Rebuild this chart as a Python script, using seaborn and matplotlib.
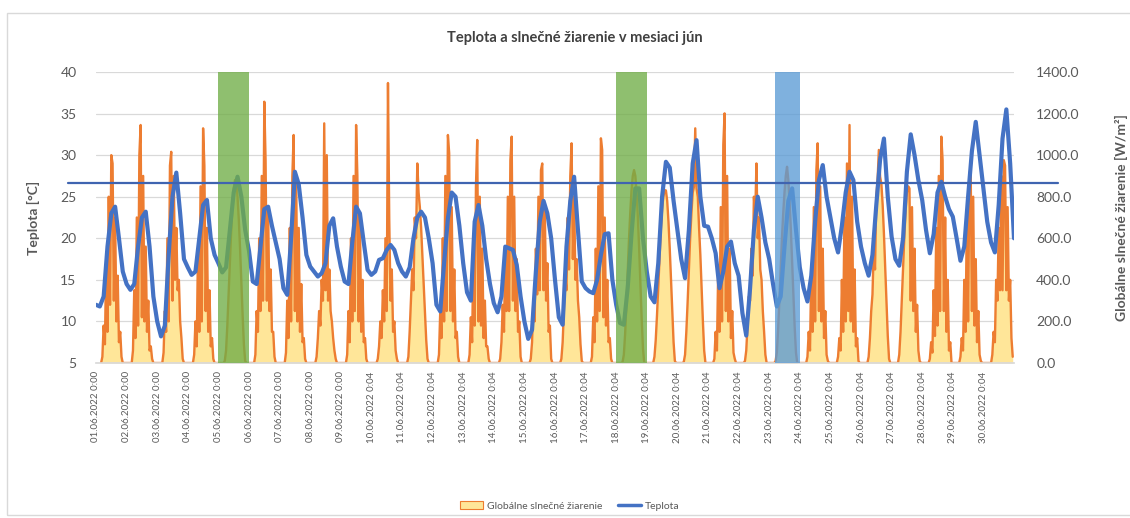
import numpy as np
import pandas as pd
import matplotlib
matplotlib.use("Agg")
import matplotlib.pyplot as plt
import matplotlib.transforms as mtransforms
from matplotlib.patches import Rectangle, Patch
from matplotlib.lines import Line2D
import seaborn as sns

# ---------------- data ----------------
TITLE = "Teplota a slnečné žiarenie v mesiaci jún"
LEFT_LABEL = "Teplota [°C]"
RIGHT_LABEL = "Globálne slnečné žiarenie [W/m²]"
SERIES_IRR = "Globálne slnečné žiarenie"
SERIES_TEMP = "Teplota"

DAY_LABELS = [
    "01.06.2022 0:00", "02.06.2022 0:00", "03.06.2022 0:00", "04.06.2022 0:00",
    "05.06.2022 0:00", "06.06.2022 0:00", "07.06.2022 0:00", "08.06.2022 0:00",
    "09.06.2022 0:00", "10.06.2022 0:04", "11.06.2022 0:04", "12.06.2022 0:04",
    "13.06.2022 0:04", "14.06.2022 0:04", "15.06.2022 0:04", "16.06.2022 0:04",
    "17.06.2022 0:04", "18.06.2022 0:04", "19.06.2022 0:04", "20.06.2022 0:04",
    "21.06.2022 0:04", "22.06.2022 0:04", "23.06.2022 0:04", "24.06.2022 0:04",
    "25.06.2022 0:04", "26.06.2022 0:04", "27.06.2022 0:04", "28.06.2022 0:04",
    "29.06.2022 0:04", "30.06.2022 0:04",
]

# temperature [°C] per day at these hours
TEMP_HOURS = [0, 3, 6, 9, 12, 15, 18, 21]
TEMP = [
    [12, 11.8, 13, 19, 23, 23.8, 20, 16],
    [14.5, 13.8, 14.5, 19, 22.5, 23.2, 19, 13],
    [10, 8.2, 9.5, 18, 25, 27.9, 23, 17.5],
    [16.5, 15.6, 16, 20, 24, 24.6, 20, 18],
    [17, 15.9, 16.5, 21, 25.5, 27.4, 25, 21],
    [18.5, 14.8, 14.5, 19, 23.5, 23.8, 21.5, 19.5],
    [17.5, 14, 13.2, 20, 28, 26.5, 22.5, 18],
    [16.6, 16, 15.4, 15.8, 17, 21.5, 22.4, 19],
    [16.6, 14.8, 14.5, 19.5, 23.8, 23, 19.5, 16.2],
    [15.6, 16, 17.4, 17.6, 18.6, 19.2, 18.6, 17],
    [16, 15.4, 16.5, 20, 22.5, 23.2, 22.5, 20],
    [17, 12, 11.2, 17, 22.4, 25.5, 25, 21.5],
    [17, 13.5, 12.5, 22, 24, 21.5, 17.5, 14.5],
    [12.2, 11.1, 13, 19, 18.8, 18.6, 16.8, 13],
    [10, 7.9, 9, 16, 22, 24.5, 23, 20],
    [15, 10.5, 9.6, 19, 24.5, 27.4, 21, 14.8],
    [14, 13.6, 13.4, 15, 18, 20.5, 20.6, 15],
    [12, 9.8, 9.6, 14, 20.5, 26, 26, 20],
    [16, 13, 12.3, 17, 25, 29.2, 28.5, 24.5],
    [21, 17.5, 15.2, 21, 29, 31.8, 25, 21.5],
    [21.4, 20, 18.2, 14, 16, 19, 19.6, 17],
    [15.5, 11, 8.3, 14, 21, 25, 22.5, 19.5],
    [17.5, 14.5, 11.8, 13, 19, 24.5, 26, 21],
    [16.5, 14, 12.4, 15.5, 22, 27, 28.8, 25],
    [22.5, 20, 18.3, 21.5, 25.5, 28, 27, 22],
    [19, 17, 15.5, 18, 24, 29.5, 32, 25],
    [20.2, 17.5, 16.7, 20, 28, 32.5, 30, 27],
    [24.6, 21, 18.2, 20.5, 25.5, 26.8, 25, 23.5],
    [22.6, 20, 17.3, 19, 25, 30.5, 34, 30],
    [26, 22, 19.5, 18.3, 24, 32, 35.5, 29],
]
TEMP_END = 20.0

# global solar irradiance [W/m²] per day at these hours
IRR_HOURS = [4, 5, 6, 7, 8, 9, 10, 11, 12, 13, 14, 15, 16, 17, 18, 19, 20, 21, 22, 23]
IRR = [
    [0, 30, 180, 90, 500, 150, 800, 280, 1000, 960, 300, 700, 200, 420, 100, 150, 30, 0, 0, 0],
    [0, 60, 350, 120, 700, 180, 1000, 1145, 220, 900, 200, 560, 150, 300, 60, 80, 20, 0, 0, 0],
    [0, 50, 250, 150, 600, 200, 950, 1016, 300, 900, 400, 650, 350, 400, 200, 120, 20, 0, 0, 0],
    [0, 40, 200, 80, 550, 150, 850, 200, 1129, 950, 250, 650, 150, 350, 80, 120, 20, 0, 0, 0],
    [0, 10, 60, 180, 330, 490, 630, 750, 840, 880, 870, 800, 690, 550, 390, 230, 90, 10, 0, 0],
    [0, 40, 250, 150, 600, 250, 900, 300, 1257, 976, 300, 750, 250, 450, 150, 150, 30, 0, 0, 0],
    [0, 50, 300, 120, 650, 200, 900, 1097, 250, 900, 200, 650, 150, 380, 100, 120, 20, 0, 0, 0],
    [0, 30, 120, 250, 180, 400, 300, 1153, 350, 1000, 300, 450, 250, 200, 120, 60, 20, 0, 0, 0],
    [0, 40, 250, 100, 600, 200, 900, 250, 1145, 900, 200, 700, 150, 400, 100, 120, 20, 0, 0, 0],
    [0, 20, 80, 200, 120, 350, 200, 600, 250, 1347, 688, 300, 450, 150, 200, 60, 20, 0, 0, 0],
    [0, 30, 150, 300, 450, 350, 700, 600, 960, 820, 750, 650, 520, 380, 240, 110, 20, 0, 0, 0],
    [0, 40, 250, 120, 600, 200, 900, 250, 1097, 1010, 250, 750, 200, 450, 120, 150, 30, 0, 0, 0],
    [0, 40, 220, 100, 550, 180, 850, 1073, 200, 800, 180, 550, 120, 300, 80, 80, 20, 0, 0, 0],
    [0, 20, 100, 280, 150, 550, 250, 800, 250, 976, 1089, 300, 800, 250, 500, 150, 200, 30, 0, 0],
    [0, 20, 100, 300, 200, 550, 330, 800, 350, 928, 960, 350, 750, 300, 480, 150, 180, 20, 0, 0],
    [0, 20, 100, 260, 420, 350, 700, 450, 900, 1057, 500, 800, 400, 500, 300, 220, 90, 10, 0, 0],
    [0, 30, 220, 100, 550, 200, 850, 250, 1081, 1025, 220, 700, 180, 400, 100, 120, 20, 0, 0, 0],
    [0, 5, 40, 140, 280, 440, 590, 720, 830, 900, 928, 900, 820, 700, 550, 380, 210, 70, 0, 0],
    [0, 0, 30, 110, 230, 370, 510, 640, 740, 800, 832, 830, 780, 680, 550, 400, 240, 100, 10, 0],
    [0, 5, 40, 150, 290, 450, 600, 720, 820, 848, 1129, 840, 800, 650, 520, 360, 200, 60, 0, 0],
    [0, 20, 150, 60, 450, 150, 750, 200, 1050, 1201, 250, 900, 200, 550, 120, 250, 50, 20, 0, 0],
    [0, 10, 60, 180, 320, 300, 550, 420, 800, 700, 960, 600, 700, 450, 400, 250, 150, 40, 0, 0],
    [0, 10, 50, 160, 300, 450, 600, 720, 820, 900, 944, 880, 780, 640, 480, 320, 170, 50, 0, 0],
    [0, 0, 30, 150, 60, 450, 150, 750, 200, 928, 1057, 250, 850, 200, 550, 120, 250, 40, 10, 0],
    [0, 0, 30, 120, 60, 400, 150, 700, 200, 960, 250, 1145, 200, 800, 150, 450, 80, 120, 10, 0],
    [0, 0, 30, 120, 250, 330, 550, 450, 800, 880, 1025, 896, 860, 760, 620, 460, 290, 130, 20, 0],
    [0, 0, 40, 150, 300, 460, 610, 730, 820, 850, 840, 300, 750, 250, 550, 150, 280, 60, 10, 0],
    [0, 0, 20, 100, 50, 350, 130, 650, 180, 900, 250, 1089, 976, 250, 700, 150, 400, 60, 100, 0],
    [0, 0, 30, 120, 60, 400, 150, 700, 200, 900, 944, 250, 800, 180, 500, 100, 250, 40, 10, 0],
    [0, 0, 0, 40, 150, 100, 400, 300, 650, 350, 900, 350, 976, 950, 350, 750, 300, 400, 120, 30],
]

THRESHOLD_TEMP = 26.6
# highlighted periods (start day, end day, colour)
HIGHLIGHTS = [(4.0, 5.0, "#70AD47"), (17.0, 18.0, "#70AD47"), (22.2, 23.0, "#5B9BD5")]

# ---------------- build tables ----------------
temp_rows = [(d + h / 24.0, v) for d, day in enumerate(TEMP) for h, v in zip(TEMP_HOURS, day)]
temp_rows.append((float(len(TEMP)), TEMP_END))
df_t = pd.DataFrame(temp_rows, columns=["t", "temp"])

irr_rows = [(d + h / 24.0, v) for d, day in enumerate(IRR) for h, v in zip(IRR_HOURS, day)]
df_i = pd.DataFrame(irr_rows, columns=["t", "irr"])

# ---------------- style ----------------
sns.set_theme(style="white")
plt.rcParams["font.family"] = ["Lato", "DejaVu Sans"]
GRAY = "#595959"

W, H = 1130, 518
fig = plt.figure(figsize=(W / 100, H / 100), dpi=100)
ax_l, ax_r, ax_t, ax_b = 96, 1014, 72, 363
ax = fig.add_axes([ax_l / W, 1 - ax_b / H, (ax_r - ax_l) / W, (ax_b - ax_t) / H])
ax2 = ax.twinx()
ax.set_zorder(ax2.get_zorder() + 1)
ax.patch.set_visible(False)

# irradiance (right axis, drawn below)
ax2.fill_between(df_i["t"], 0, df_i["irr"], color="#FFE699", lw=0, zorder=1)
sns.lineplot(data=df_i, x="t", y="irr", ax=ax2, color="#ED7D31", lw=1.7,
             legend=False, zorder=2)
ax2.set_ylim(0, 1400)
ax2.set_yticks(np.arange(0, 1401, 200))
ax2.set_yticklabels([f"{v:.1f}" for v in np.arange(0, 1401, 200)])
ax2.yaxis.grid(True, color="#D9D9D9", lw=0.9)
ax2.set_axisbelow(True)
ax2.tick_params(axis="y", length=0, pad=16, labelsize=10, labelcolor=GRAY)
ax2.set_ylabel(RIGHT_LABEL, fontsize=10, fontweight="bold", color=GRAY)
ax2.yaxis.set_label_coords((1115 - ax_l) / (ax_r - ax_l), 0.5)

# temperature (left axis, on top)
sns.lineplot(data=df_t, x="t", y="temp", ax=ax, color="#4472C4", lw=3.0,
             legend=False, zorder=3)
ax.set_ylim(5, 40)
ax.set_yticks(np.arange(5, 41, 5))
ax.set_xlim(0, len(TEMP))
ax.tick_params(axis="y", length=0, pad=14, labelsize=10, labelcolor=GRAY)
ax.set_ylabel(LEFT_LABEL, fontsize=10, fontweight="bold", color=GRAY)
ax.yaxis.set_label_coords((40 - ax_l) / (ax_r - ax_l), 0.5)

ax.set_xticks(np.arange(len(DAY_LABELS)))
ax.set_xticklabels(DAY_LABELS, rotation=90, fontsize=7, color=GRAY, va="top", ha="center")
ax.tick_params(axis="x", length=0, pad=6)
ax.set_xlabel("")
ax2.set_xlabel("")

for a in (ax, ax2):
    for s in a.spines.values():
        s.set_visible(False)
ax2.spines["bottom"].set_visible(True)
ax2.spines["bottom"].set_color("#D9D9D9")

# highlighted periods
for start, end, col in HIGHLIGHTS:
    ax.axvspan(start, end, color=col, alpha=0.78, lw=0, zorder=4)

# threshold line (extends beyond plot area as in original)
trans = mtransforms.blended_transform_factory(ax.transAxes, ax.transData)
x0 = (68 - ax_l) / (ax_r - ax_l)
x1 = (1058 - ax_l) / (ax_r - ax_l)
ax.add_line(Line2D([x0, x1], [THRESHOLD_TEMP, THRESHOLD_TEMP], transform=trans,
                   color="#3F64B0", lw=1.6, clip_on=False, zorder=6))

# title
fig.text(575 / W, 1 - 38 / H, TITLE, ha="center", va="center", fontsize=10.5,
         fontweight="bold", color="#404040")

# legend
handles = [Patch(facecolor="#FFE699", edgecolor="#ED7D31", lw=0.8),
           Line2D([], [], color="#4472C4", lw=2.5)]
fig.legend(handles, [SERIES_IRR, SERIES_TEMP], loc="center",
           bbox_to_anchor=(570 / W, 1 - 506 / H), ncol=2, frameon=False,
           fontsize=7.5, labelcolor=GRAY, handlelength=2.2, columnspacing=1.5,
           handletextpad=0.4)

# chart border
fig.add_artist(Rectangle((7 / W, 1 - 515 / H), (W + 10) / W, (515 - 13) / H,
                         transform=fig.transFigure, fill=False,
                         edgecolor="#D9D9D9", lw=1.0))

fig.savefig("out.png", dpi=100, facecolor="white")
